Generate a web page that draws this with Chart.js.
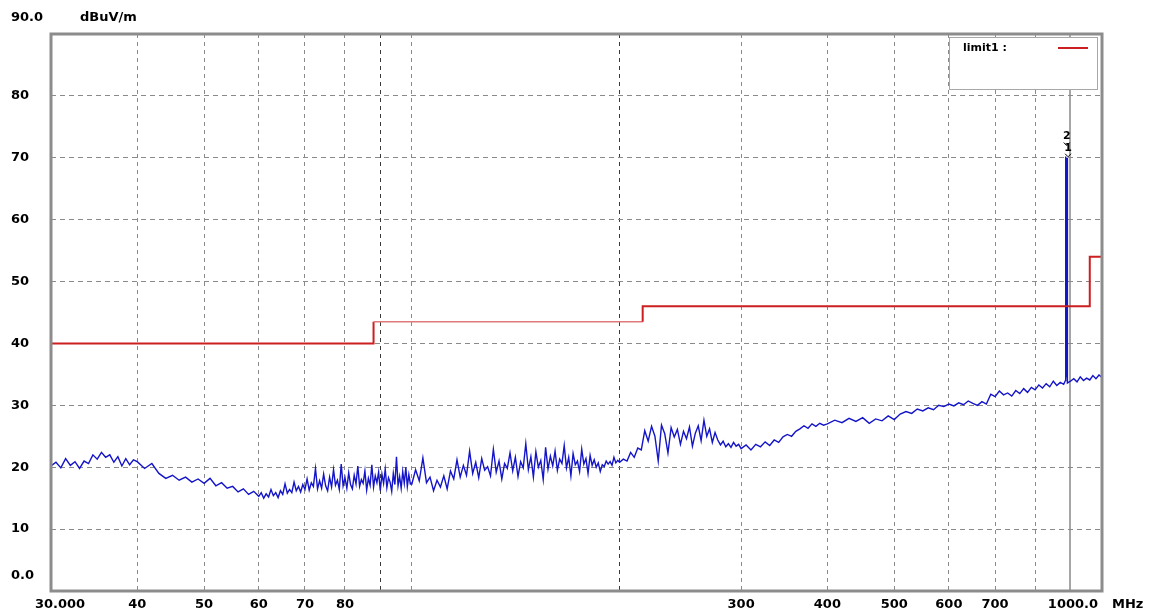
<!DOCTYPE html>
<html>
<head>
<meta charset="utf-8">
<script src="https://cdn.jsdelivr.net/npm/chart.js@4.4.1/dist/chart.umd.min.js"></script>
<style>
  body { margin: 0; background: #fff; }
  canvas { display: block; }
</style>
</head>
<body>
<canvas id="emiCanvas" width="1158" height="615"></canvas>
<script>
// sweep (MHz / dBuV/m)
const freq30 = [30, 30.5, 31, 31.5, 32, 32.5, 33, 33.5, 34, 34.5, 35, 35.5, 36, 36.5, 37, 37.5, 38, 38.5, 39, 39.5];
const level30 = [20.2, 20.8, 19.9, 21.4, 20.3, 20.9, 19.8, 21.0, 20.6, 22.0, 21.3, 22.4, 21.6, 22.0, 20.8, 21.7, 20.2, 21.4, 20.4, 21.2];

const freq40 = [40, 41, 42, 43, 44, 45, 46, 47, 48, 49, 50, 51, 52, 53, 54, 55, 56, 57, 58, 59];
const level40 = [20.9, 19.8, 20.6, 19.0, 18.2, 18.7, 17.9, 18.4, 17.6, 18.1, 17.4, 18.2, 17.0, 17.5, 16.6, 16.9, 16.0, 16.5, 15.6, 16.1];

const freq60 = [60, 60.5, 61, 61.5, 62, 62.5, 63, 63.5, 64, 64.5, 65, 65.5, 66, 66.5, 67, 67.5, 68, 68.5, 69, 69.5,
  70, 70.5, 71, 71.5, 72, 72.5, 73, 73.5, 74, 74.5, 75, 75.5, 76, 76.5, 77, 77.5, 78, 78.5, 79, 79.5,
  80, 80.5, 81, 81.5, 82, 82.5, 83, 83.5, 84, 84.5, 85, 85.5, 86, 86.5, 87, 87.5, 88, 88.5, 89, 89.5,
  90, 90.5, 91, 91.5, 92, 92.5, 93, 93.5, 94, 94.5, 95, 95.5, 96, 96.5, 97, 97.5, 98, 98.5, 99, 99.5];
const level60 = [15.3, 15.9, 15.0, 15.7, 15.2, 16.4, 15.4, 15.9, 15.1, 16.2, 15.6, 17.3, 15.8, 16.4, 15.9, 17.6, 16.2, 16.9, 16.0, 17.2,
  16.4, 18.1, 16.3, 17.5, 16.9, 19.8, 16.5, 17.8, 16.6, 18.9, 17.0, 16.2, 18.4, 16.8, 19.6, 17.1, 17.9, 16.4, 20.5, 17.0,
  18.3, 16.6, 19.1, 17.2, 16.5, 18.7, 17.3, 20.2, 16.9, 18.0, 17.4, 19.4, 16.3, 18.2, 17.1, 20.4, 16.8, 18.6, 17.5, 19.2,
  16.2, 18.9, 17.4, 19.7, 16.7, 18.3, 17.6, 16.1, 19.0, 17.2, 21.7, 17.0, 18.5, 16.6, 19.3, 17.4, 20.0, 16.9, 18.8, 17.3];

const freq100 = [100, 101.25, 102.5, 103.75, 105, 106.25, 107.5, 108.75, 110, 111.25, 112.5, 113.75, 115, 116.25, 117.5, 118.75, 120, 121.25, 122.5, 123.75,
  125, 126.25, 127.5, 128.75, 130, 131.25, 132.5, 133.75, 135, 136.25, 137.5, 138.75, 140, 141.25, 142.5, 143.75, 145, 146.25, 147.5, 148.75,
  150, 151.25, 152.5, 153.75, 155, 156.25, 157.5, 158.75, 160, 161.25, 162.5, 163.75, 165, 166.25, 167.5, 168.75, 170, 171.25, 172.5, 173.75,
  175, 176.25, 177.5, 178.75, 180, 181.25, 182.5, 183.75, 185, 186.25, 187.5, 188.75, 190, 191.25, 192.5, 193.75, 195, 196.25, 197.5, 198.75];
const level100 = [17.3, 19.6, 17.8, 21.5, 17.5, 18.4, 16.2, 17.9, 16.8, 18.6, 16.5, 19.4, 18.1, 21.2, 18.4, 20.3, 18.7, 22.6, 19.0, 20.8,
  18.3, 21.4, 19.5, 20.1, 18.6, 22.9, 19.2, 21.0, 18.1, 20.6, 19.8, 22.3, 19.4, 21.6, 18.5, 20.9, 19.9, 23.8, 19.6, 21.7,
  18.4, 22.5, 20.0, 21.1, 18.0, 23.2, 19.7, 21.8, 20.2, 22.6, 19.5, 21.3, 20.6, 23.5, 19.9, 21.6, 18.6, 22.2, 20.4, 21.0,
  19.3, 22.9, 20.5, 21.4, 19.0, 21.9, 20.3, 21.2, 20.0, 20.7, 19.3, 20.4, 20.1, 21.0, 20.5, 20.9, 20.3, 21.6, 20.7, 21.1];

const freq200 = [200, 202.5, 205, 207.5, 210, 212.5, 215, 217.5, 220, 222.5, 225, 227.5, 230, 232.5, 235, 237.5, 240, 242.5, 245, 247.5,
  250, 252.5, 255, 257.5, 260, 262.5, 265, 267.5, 270, 272.5, 275, 277.5, 280, 282.5, 285, 287.5, 290, 292.5, 295, 297.5];
const level200 = [20.8, 21.3, 21.0, 22.4, 21.6, 23.1, 22.8, 25.9, 24.2, 26.6, 25.0, 21.0, 26.8, 25.4, 22.3, 26.4, 24.9, 26.1, 23.7, 25.8,
  24.6, 26.5, 23.4, 25.5, 26.7, 24.3, 27.6, 25.0, 26.2, 24.0, 25.6, 24.4, 23.6, 24.2, 23.3, 23.8, 23.2, 24.0, 23.4, 23.7];

const freq300 = [300, 305, 310, 315, 320, 325, 330, 335, 340, 345, 350, 355, 360, 365, 370, 375, 380, 385, 390, 395];
const level300 = [23.0, 23.6, 22.8, 23.7, 23.3, 24.1, 23.5, 24.4, 24.0, 24.9, 25.3, 25.0, 25.8, 26.2, 26.7, 26.3, 27.0, 26.6, 27.1, 26.8];

const freq400 = [400, 410, 420, 430, 440, 450, 460, 470, 480, 490, 500, 510, 520, 530, 540, 550, 560, 570, 580, 590,
  600, 610, 620, 630, 640, 650, 660, 670, 680, 690, 700, 710, 720, 730, 740, 750, 760, 770, 780, 790,
  800, 810, 820, 830, 840, 850, 860, 870, 880];
const level400 = [27.0, 27.6, 27.2, 27.9, 27.4, 28.0, 27.1, 27.8, 27.5, 28.3, 27.7, 28.6, 29.0, 28.7, 29.4, 29.1, 29.6, 29.3, 30.0, 29.8,
  30.2, 29.9, 30.4, 30.1, 30.7, 30.3, 30.0, 30.6, 30.2, 31.8, 31.4, 32.3, 31.7, 32.0, 31.5, 32.4, 31.9, 32.7, 32.1, 32.9,
  32.5, 33.3, 32.8, 33.5, 33.0, 33.9, 33.2, 33.7, 33.4];

// the carrier near 890 MHz and the top of the band
const freqPeak = [885, 886, 887, 888, 889, 890, 891, 900, 910, 920, 930, 940, 950, 960, 970, 980, 990, 1000];
const levelPeak = [34.0, 70.2, 35.0, 52.3, 34.5, 70.0, 33.6, 33.9, 34.3, 33.8, 34.6, 34.0, 34.4, 34.1, 34.8, 34.3, 34.9, 34.5];

// limit1
const limitFreq = [30, 88, 88, 216, 216, 960, 960, 1000];
const limitLevel = [40, 40, 43.5, 43.5, 46, 46, 54, 54];

// markers at the carrier
const markerNames = ['2', '1'];
const markerFreq = [886, 890];
const markerLevel = [70.2, 70.0];

const xGridValues = [30, 40, 50, 60, 70, 80, 90, 100, 200, 300, 400, 500, 600, 700, 800, 900, 1000];
const xLabelValues = [40, 50, 60, 70, 80, 300, 400, 500, 600, 700];
const yGridValues = [0, 10, 20, 30, 40, 50, 60, 70, 80, 90];

const sweepFreq = [].concat(freq30, freq40, freq60, freq100, freq200, freq300, freq400, freqPeak);
const sweepLevel = [].concat(level30, level40, level60, level100, level200, level300, level400, levelPeak);

const labelFont = { family: 'DejaVu Sans', size: 13, weight: 'bold' };

const framePlugin = {
  id: 'frame',
  afterDraw(chart) {
    const ctx = chart.ctx;
    const a = chart.chartArea;
    const xs = chart.scales.x;
    const ys = chart.scales.y;
    ctx.save();

    // outer frame
    ctx.strokeStyle = '#8c8c8c';
    ctx.lineWidth = 3;
    ctx.strokeRect(a.left, a.top, a.right - a.left, a.bottom - a.top);

    // end labels and units
    ctx.fillStyle = '#000';
    ctx.font = 'bold 13px "DejaVu Sans"';
    ctx.textBaseline = 'middle';
    ctx.textAlign = 'left';
    ctx.fillText('90.0', 11, 18);
    ctx.fillText('dBuV/m', 80, 18);
    ctx.fillText('0.0', 11, 576);
    ctx.fillText('30.000', 35, 605);
    ctx.fillText('MHz', 1112, 605);
    ctx.textAlign = 'right';
    ctx.fillText('1000.0', 1098, 605);

    // legend box
    const bx = a.right - 153, by = a.top + 3;
    ctx.fillStyle = '#fff';
    ctx.fillRect(bx, by, 148, 52);
    ctx.strokeStyle = '#a8a8a8';
    ctx.lineWidth = 1;
    ctx.strokeRect(bx + 0.5, by + 0.5, 148, 52);
    ctx.fillStyle = '#000';
    ctx.font = 'bold 11px "DejaVu Sans"';
    ctx.textAlign = 'left';
    ctx.fillText('limit1 :', bx + 14, by + 11);
    ctx.strokeStyle = '#cc1f1f';
    ctx.lineWidth = 2;
    ctx.beginPath();
    ctx.moveTo(bx + 109, by + 11);
    ctx.lineTo(bx + 139, by + 11);
    ctx.stroke();

    // peak markers
    ctx.font = 'bold 11px "DejaVu Sans"';
    ctx.textAlign = 'center';
    ctx.fillStyle = '#000';
    ctx.strokeStyle = '#000';
    ctx.lineWidth = 1;
    markerNames.forEach((name, i) => {
      const px = xs.getPixelForValue(markerFreq[i]);
      const py = ys.getPixelForValue(markerLevel[i]);
      const ty = py - 20 + i * 10;
      ctx.fillText(name, px + 1, ty);
      ctx.beginPath();
      ctx.moveTo(px - 2, ty + 6);
      ctx.lineTo(px + 1, ty + 9);
      ctx.lineTo(px + 4, ty + 6);
      ctx.stroke();
    });
    ctx.restore();
  }
};

new Chart(document.getElementById('emiCanvas'), {
  type: 'line',
  data: {
    datasets: [
      {
        label: 'limit1',
        data: limitFreq.map((f, i) => ({ x: f, y: limitLevel[i] })),
        borderColor: '#cc1f1f',
        borderWidth: 2,
        pointRadius: 0,
        segment: {
          borderColor: c => c.p0DataIndex === 2 ? '#e07a7a' : '#cc1f1f',
          borderWidth: c => c.p0DataIndex === 2 ? 1.5 : 2
        }
      },
      {
        label: 'trace',
        data: sweepFreq.map((f, i) => ({ x: f, y: sweepLevel[i] })),
        borderColor: '#1414c8',
        borderWidth: 1.4,
        pointRadius: 0,
        tension: 0
      }
    ]
  },
  options: {
    responsive: false,
    animation: false,
    layout: { padding: { left: 11, top: 34, right: 56, bottom: 0 } },
    plugins: {
      legend: { display: false },
      tooltip: { enabled: false }
    },
    scales: {
      x: {
        type: 'logarithmic',
        min: 30,
        max: 1000,
        afterBuildTicks: s => { s.ticks = xGridValues.map(v => ({ value: v })); },
        afterFit: s => { s.height = 24; },
        ticks: {
          autoSkip: false,
          maxRotation: 0,
          padding: 6,
          color: '#000',
          font: labelFont,
          callback: v => xLabelValues.includes(v) ? String(v) : ''
        },
        grid: {
          drawTicks: false,
          color: c => {
            const v = c.tick && c.tick.value;
            if (v === 900) return '#a6a6a6';
            if (v === 90 || v === 200) return '#3a3a3a';
            return '#8a8a8a';
          },
          lineWidth: c => (c.tick && c.tick.value === 900) ? 2 : 1
        },
        border: {
          display: false,
          dash: c => (c.tick && c.tick.value === 900) ? [] : [4, 4]
        }
      },
      y: {
        min: 0,
        max: 90,
        afterBuildTicks: s => { s.ticks = yGridValues.map(v => ({ value: v })); },
        afterFit: s => { s.width = 40; },
        ticks: {
          crossAlign: 'far',
          color: '#000',
          font: labelFont,
          callback: v => (v === 0 || v === 90) ? '' : String(v)
        },
        grid: { drawTicks: false, color: '#8a8a8a' },
        border: { display: false, dash: [5, 4] }
      }
    }
  },
  plugins: [framePlugin]
});
</script>
</body>
</html>
